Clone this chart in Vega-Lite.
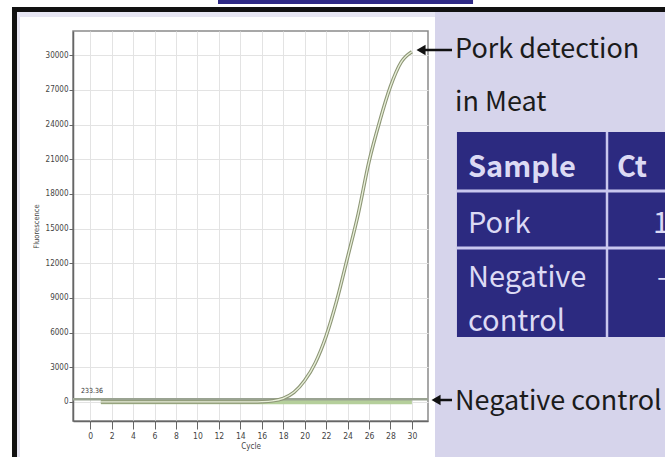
{
  "$schema": "https://vega.github.io/schema/vega-lite/v6.json",
  "width": 355,
  "height": 390,
  "autosize": {"type": "none"},
  "padding": {"left": 73, "top": 31, "right": 237, "bottom": 36},
  "background": "white",
  "config": {
    "view": {"stroke": "#8a8a8a", "strokeWidth": 1.5},
    "font": "Liberation Sans"
  },
  "resolve": {"axis": {"x": "independent", "y": "independent"}},
  "datasets": {
    "curves": [
      {"cycle": 1, "sample": "Pork", "rfu": 0}, {"cycle": 2, "sample": "Pork", "rfu": 0},
      {"cycle": 3, "sample": "Pork", "rfu": 0}, {"cycle": 4, "sample": "Pork", "rfu": 0},
      {"cycle": 5, "sample": "Pork", "rfu": 0}, {"cycle": 6, "sample": "Pork", "rfu": 0},
      {"cycle": 7, "sample": "Pork", "rfu": 0}, {"cycle": 8, "sample": "Pork", "rfu": 0},
      {"cycle": 9, "sample": "Pork", "rfu": 0}, {"cycle": 10, "sample": "Pork", "rfu": 0},
      {"cycle": 11, "sample": "Pork", "rfu": 0}, {"cycle": 12, "sample": "Pork", "rfu": 0},
      {"cycle": 13, "sample": "Pork", "rfu": 0}, {"cycle": 14, "sample": "Pork", "rfu": 0},
      {"cycle": 15, "sample": "Pork", "rfu": 0}, {"cycle": 16, "sample": "Pork", "rfu": 20},
      {"cycle": 17, "sample": "Pork", "rfu": 90}, {"cycle": 18, "sample": "Pork", "rfu": 310},
      {"cycle": 19, "sample": "Pork", "rfu": 830}, {"cycle": 20, "sample": "Pork", "rfu": 1850},
      {"cycle": 21, "sample": "Pork", "rfu": 3400}, {"cycle": 22, "sample": "Pork", "rfu": 5700},
      {"cycle": 23, "sample": "Pork", "rfu": 8800}, {"cycle": 24, "sample": "Pork", "rfu": 12500},
      {"cycle": 25, "sample": "Pork", "rfu": 16300}, {"cycle": 26, "sample": "Pork", "rfu": 20800},
      {"cycle": 27, "sample": "Pork", "rfu": 24300}, {"cycle": 28, "sample": "Pork", "rfu": 27300},
      {"cycle": 29, "sample": "Pork", "rfu": 29400}, {"cycle": 30, "sample": "Pork", "rfu": 30300},
      {"cycle": 1, "sample": "Negative control", "rfu": 0}, {"cycle": 2, "sample": "Negative control", "rfu": 0},
      {"cycle": 3, "sample": "Negative control", "rfu": 0}, {"cycle": 4, "sample": "Negative control", "rfu": 0},
      {"cycle": 5, "sample": "Negative control", "rfu": 0}, {"cycle": 6, "sample": "Negative control", "rfu": 0},
      {"cycle": 7, "sample": "Negative control", "rfu": 0}, {"cycle": 8, "sample": "Negative control", "rfu": 0},
      {"cycle": 9, "sample": "Negative control", "rfu": 0}, {"cycle": 10, "sample": "Negative control", "rfu": 0},
      {"cycle": 11, "sample": "Negative control", "rfu": 0}, {"cycle": 12, "sample": "Negative control", "rfu": 0},
      {"cycle": 13, "sample": "Negative control", "rfu": 0}, {"cycle": 14, "sample": "Negative control", "rfu": 0},
      {"cycle": 15, "sample": "Negative control", "rfu": 0}, {"cycle": 16, "sample": "Negative control", "rfu": 0},
      {"cycle": 17, "sample": "Negative control", "rfu": 0}, {"cycle": 18, "sample": "Negative control", "rfu": 0},
      {"cycle": 19, "sample": "Negative control", "rfu": 0}, {"cycle": 20, "sample": "Negative control", "rfu": 0},
      {"cycle": 21, "sample": "Negative control", "rfu": 0}, {"cycle": 22, "sample": "Negative control", "rfu": 0},
      {"cycle": 23, "sample": "Negative control", "rfu": 0}, {"cycle": 24, "sample": "Negative control", "rfu": 0},
      {"cycle": 25, "sample": "Negative control", "rfu": 0}, {"cycle": 26, "sample": "Negative control", "rfu": 0},
      {"cycle": 27, "sample": "Negative control", "rfu": 0}, {"cycle": 28, "sample": "Negative control", "rfu": 0},
      {"cycle": 29, "sample": "Negative control", "rfu": 0}, {"cycle": 30, "sample": "Negative control", "rfu": 0}
    ],
    "table": [
      {"Sample": "Pork", "Ct": "18.53"},
      {"Sample": "Negative control", "Ct": "–"}
    ]
  },
  "layer": [
    {
      "data": {"name": "curves"},
      "transform": [{"filter": "datum.sample === 'Negative control'"}],
      "mark": {"type": "line", "color": "#b5cf9b", "strokeWidth": 4.5, "clip": false},
      "encoding": {
        "x": {
          "field": "cycle", "type": "quantitative",
          "scale": {"domain": [-1.6, 31.5], "nice": false, "zero": false},
          "axis": {
            "values": [0, 2, 4, 6, 8, 10, 12, 14, 16, 18, 20, 22, 24, 26, 28, 30],
            "title": "Cycle", "grid": true, "gridColor": "#e3e3e3", "gridWidth": 1,
            "domainColor": "#666666", "domainWidth": 1.5, "tickColor": "#666666", "tickSize": 8,
            "labelFontSize": 8.5, "labelColor": "#444444", "labelPadding": 2, "labelFlush": false,
            "labelFont": "DejaVu Sans Condensed",
            "titleFontSize": 8, "titleFontWeight": "normal", "titleColor": "#444444", "titlePadding": 3,
            "titleFont": "DejaVu Sans Condensed"
          }
        },
        "y": {
          "field": "rfu", "type": "quantitative",
          "scale": {"domain": [-1650, 32100], "nice": false, "zero": false},
          "axis": {
            "values": [0, 3000, 6000, 9000, 12000, 15000, 18000, 21000, 24000, 27000, 30000],
            "format": "d",
            "title": "Fluorescence", "grid": true, "gridColor": "#e3e3e3", "gridWidth": 1,
            "domainColor": "#666666", "domainWidth": 1.5, "tickColor": "#666666", "tickSize": 4,
            "labelFontSize": 8, "labelColor": "#444444", "labelPadding": 1, "labelFlush": false,
            "labelFont": "DejaVu Sans Condensed",
            "titleFontSize": 7.5, "titleFontWeight": "normal", "titleColor": "#444444", "titlePadding": 5,
            "titleFont": "DejaVu Sans Condensed"
          }
        }
      }
    },
    {
      "data": {"values": [{}]},
      "mark": {"type": "rule", "color": "#9aa392", "strokeWidth": 2.5},
      "encoding": {"y": {"datum": 233.36, "type": "quantitative", "axis": null}}
    },
    {
      "data": {"name": "curves"},
      "transform": [{"filter": "datum.sample === 'Pork'"}],
      "mark": {"type": "line", "color": "#8d9676", "strokeWidth": 3.5, "interpolate": "monotone", "clip": false},
      "encoding": {
        "x": {"field": "cycle", "type": "quantitative", "axis": null},
        "y": {"field": "rfu", "type": "quantitative", "axis": null}
      }
    },
    {
      "data": {"name": "curves"},
      "transform": [{"filter": "datum.sample === 'Pork'"}],
      "mark": {"type": "line", "color": "#e9f0da", "strokeWidth": 1.3, "interpolate": "monotone", "clip": false},
      "encoding": {
        "x": {"field": "cycle", "type": "quantitative", "axis": null},
        "y": {"field": "rfu", "type": "quantitative", "axis": null}
      }
    },
    {
      "data": {"values": [{}]},
      "mark": {"type": "text", "text": "233.36", "fontSize": 7, "color": "#333333", "align": "left", "baseline": "alphabetic", "font": "DejaVu Sans Condensed"},
      "encoding": {"x": {"datum": -0.854, "type": "quantitative", "axis": null}, "y": {"datum": 773, "type": "quantitative", "axis": null}}
    },
    {
      "data": {"values": [{}]},
      "mark": {"type": "rect", "color": "#111111", "clip": false},
      "encoding": {
        "x": {"datum": -7.288, "type": "quantitative", "axis": null}, "x2": {"datum": 56.86},
        "y": {"datum": 34177, "type": "quantitative", "axis": null}, "y2": {"datum": 33744}
      }
    },
    {
      "data": {"values": [{}]},
      "mark": {"type": "rect", "color": "#111111", "clip": false},
      "encoding": {
        "x": {"datum": -7.288, "type": "quantitative", "axis": null}, "x2": {"datum": -6.821},
        "y": {"datum": 34177, "type": "quantitative", "axis": null}, "y2": {"datum": -8486}
      }
    },
    {
      "data": {"values": [{}]},
      "mark": {"type": "rect", "color": "#e7e6f3", "clip": false},
      "encoding": {
        "x": {"datum": -6.821, "type": "quantitative", "axis": null}, "x2": {"datum": 32.153},
        "y": {"datum": 33744, "type": "quantitative", "axis": null}, "y2": {"datum": 33311}
      }
    },
    {
      "data": {"values": [{}]},
      "mark": {"type": "rect", "color": "#e7e6f3", "clip": false},
      "encoding": {
        "x": {"datum": -6.821, "type": "quantitative", "axis": null}, "x2": {"datum": -6.542},
        "y": {"datum": 33744, "type": "quantitative", "axis": null}, "y2": {"datum": -8486}
      }
    },
    {
      "data": {"values": [{}]},
      "mark": {"type": "rect", "color": "#d6d4eb", "clip": false},
      "encoding": {
        "x": {"datum": 32.153, "type": "quantitative", "axis": null}, "x2": {"datum": 56.86},
        "y": {"datum": 33744, "type": "quantitative", "axis": null}, "y2": {"datum": -8486}
      }
    },
    {
      "data": {"values": [{}]},
      "mark": {"type": "rect", "color": "#2f2a86", "clip": false},
      "encoding": {
        "x": {"datum": 11.92, "type": "quantitative", "axis": null}, "x2": {"datum": 35.7},
        "y": {"datum": 34900, "type": "quantitative", "axis": null}, "y2": {"datum": 34436}
      }
    },
    {
      "data": {"values": [{}]},
      "mark": {"type": "rule", "color": "#111111", "strokeWidth": 2.5, "clip": false},
      "encoding": {
        "x": {"datum": 31.22, "type": "quantitative", "axis": null}, "x2": {"datum": 33.74},
        "y": {"datum": 30456, "type": "quantitative", "axis": null}
      }
    },
    {
      "data": {"values": [{}]},
      "mark": {"type": "point", "shape": "triangle-left", "filled": true, "color": "#111111", "size": 110, "opacity": 1, "clip": false},
      "encoding": {"x": {"datum": 30.85, "type": "quantitative", "axis": null}, "y": {"datum": 30456, "type": "quantitative", "axis": null}}
    },
    {
      "data": {"values": [{}]},
      "mark": {"type": "text", "text": "Pork detection", "fontSize": 27, "color": "#1b1b1b", "align": "left", "baseline": "alphabetic", "font": "Noto Sans CJK JP", "clip": false},
      "encoding": {"x": {"datum": 34.02, "type": "quantitative", "axis": null}, "y": {"datum": 29764, "type": "quantitative", "axis": null}}
    },
    {
      "data": {"values": [{}]},
      "mark": {"type": "text", "text": "in Meat", "fontSize": 27, "color": "#1b1b1b", "align": "left", "baseline": "alphabetic", "font": "Noto Sans CJK JP", "clip": false},
      "encoding": {"x": {"datum": 34.02, "type": "quantitative", "axis": null}, "y": {"datum": 25177, "type": "quantitative", "axis": null}}
    },
    {
      "data": {"values": [{}]},
      "mark": {"type": "rule", "color": "#111111", "strokeWidth": 2.5, "clip": false},
      "encoding": {
        "x": {"datum": 32.62, "type": "quantitative", "axis": null}, "x2": {"datum": 33.74},
        "y": {"datum": 167, "type": "quantitative", "axis": null}
      }
    },
    {
      "data": {"values": [{}]},
      "mark": {"type": "point", "shape": "triangle-left", "filled": true, "color": "#111111", "size": 110, "opacity": 1, "clip": false},
      "encoding": {"x": {"datum": 32.25, "type": "quantitative", "axis": null}, "y": {"datum": 167, "type": "quantitative", "axis": null}}
    },
    {
      "data": {"values": [{}]},
      "mark": {"type": "text", "text": "Negative control", "fontSize": 27, "color": "#1b1b1b", "align": "left", "baseline": "alphabetic", "font": "Noto Sans CJK JP", "clip": false},
      "encoding": {"x": {"datum": 34.02, "type": "quantitative", "axis": null}, "y": {"datum": -698, "type": "quantitative", "axis": null}}
    },
    {
      "data": {"values": [{}]},
      "mark": {"type": "rect", "color": "#2c2a80", "clip": false},
      "encoding": {
        "x": {"datum": 34.2, "type": "quantitative", "axis": null}, "x2": {"datum": 56.86},
        "y": {"datum": 23360, "type": "quantitative", "axis": null}, "y2": {"datum": 5619}
      }
    },
    {
      "data": {"values": [{}]},
      "mark": {"type": "rule", "color": "#c9c7ef", "strokeWidth": 2.5, "clip": false},
      "encoding": {
        "x": {"datum": 48.19, "type": "quantitative", "axis": null},
        "y": {"datum": 23360, "type": "quantitative", "axis": null}, "y2": {"datum": 5619}
      }
    },
    {
      "data": {"values": [{}]},
      "mark": {"type": "rule", "color": "#c9c7ef", "strokeWidth": 3, "clip": false},
      "encoding": {
        "x": {"datum": 34.2, "type": "quantitative", "axis": null}, "x2": {"datum": 56.86},
        "y": {"datum": 18254, "type": "quantitative", "axis": null}
      }
    },
    {
      "data": {"values": [{}]},
      "mark": {"type": "rule", "color": "#c9c7ef", "strokeWidth": 3, "clip": false},
      "encoding": {
        "x": {"datum": 34.2, "type": "quantitative", "axis": null}, "x2": {"datum": 56.86},
        "y": {"datum": 13321, "type": "quantitative", "axis": null}
      }
    },
    {
      "data": {"values": [{}]},
      "mark": {"type": "text", "text": "Sample", "fontSize": 29, "fontWeight": "bold", "color": "#dcdaf4", "align": "left", "baseline": "alphabetic", "font": "Noto Sans CJK JP", "clip": false},
      "encoding": {"x": {"datum": 35.23, "type": "quantitative", "axis": null}, "y": {"datum": 19465, "type": "quantitative", "axis": null}}
    },
    {
      "data": {"values": [{}]},
      "mark": {"type": "text", "text": "Ct", "fontSize": 29, "fontWeight": "bold", "color": "#dcdaf4", "align": "left", "baseline": "alphabetic", "font": "Noto Sans CJK JP", "clip": false},
      "encoding": {"x": {"datum": 49.12, "type": "quantitative", "axis": null}, "y": {"datum": 19465, "type": "quantitative", "axis": null}}
    },
    {
      "data": {"name": "table"},
      "transform": [{"filter": "datum.Sample === 'Pork'"}],
      "mark": {"type": "text", "fontSize": 29, "color": "#dcdaf4", "align": "left", "baseline": "alphabetic", "font": "Noto Sans CJK JP", "clip": false},
      "encoding": {"x": {"datum": 35.23, "type": "quantitative", "axis": null}, "y": {"datum": 14619, "type": "quantitative", "axis": null}, "text": {"field": "Sample"}}
    },
    {
      "data": {"name": "table"},
      "transform": [{"filter": "datum.Sample === 'Pork'"}],
      "mark": {"type": "text", "fontSize": 29, "color": "#dcdaf4", "align": "left", "baseline": "alphabetic", "font": "Noto Sans CJK JP", "clip": false},
      "encoding": {"x": {"datum": 52.48, "type": "quantitative", "axis": null}, "y": {"datum": 14619, "type": "quantitative", "axis": null}, "text": {"field": "Ct"}}
    },
    {
      "data": {"name": "table"},
      "transform": [{"filter": "datum.Sample === 'Negative control'"}],
      "mark": {"type": "text", "fontSize": 29, "lineBreak": " ", "lineHeight": 44, "color": "#dcdaf4", "align": "left", "baseline": "alphabetic", "font": "Noto Sans CJK JP", "clip": false},
      "encoding": {"x": {"datum": 35.23, "type": "quantitative", "axis": null}, "y": {"datum": 9946, "type": "quantitative", "axis": null}, "text": {"field": "Sample"}}
    },
    {
      "data": {"name": "table"},
      "transform": [{"filter": "datum.Sample === 'Negative control'"}],
      "mark": {"type": "text", "fontSize": 29, "color": "#dcdaf4", "align": "left", "baseline": "alphabetic", "font": "Noto Sans CJK JP", "clip": false},
      "encoding": {"x": {"datum": 52.85, "type": "quantitative", "axis": null}, "y": {"datum": 9946, "type": "quantitative", "axis": null}, "text": {"field": "Ct"}}
    }
  ]
}
